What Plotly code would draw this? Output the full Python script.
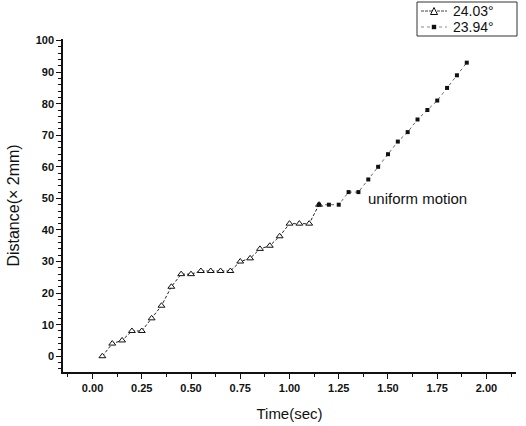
import plotly.graph_objects as go

# Time stamps (s) and distances (x 2 mm) for the two inclination angles
t_24 = [0.05, 0.10, 0.15, 0.20, 0.25, 0.30, 0.35, 0.40, 0.45, 0.50, 0.55, 0.60,
        0.65, 0.70, 0.75, 0.80, 0.85, 0.90, 0.95, 1.00, 1.05, 1.10, 1.15]
d_24 = [0, 4, 5, 8, 8, 12, 16, 22, 26, 26, 27, 27,
        27, 27, 30, 31, 34, 35, 38, 42, 42, 42, 48]

t_23 = [1.15, 1.20, 1.25, 1.30, 1.35, 1.40, 1.45, 1.50, 1.55, 1.60, 1.65,
        1.70, 1.75, 1.80, 1.85, 1.90]
d_23 = [48, 48, 48, 52, 52, 56, 60, 64, 68, 71, 75, 78, 81, 85, 89, 93]

series_names = ["24.03°", "23.94°"]

x_ticks = [0.00, 0.25, 0.50, 0.75, 1.00, 1.25, 1.50, 1.75, 2.00]
y_ticks = [0, 10, 20, 30, 40, 50, 60, 70, 80, 90, 100]

FONT = "Liberation Sans, Arial, sans-serif"
W, H = 526, 426
ML, MR, MT, MB = 63, 10, 39, 54
PW, PH = W - ML - MR, H - MT - MB


def paper(px, py):
    """Convert page pixels to paper coordinates of the plotting area."""
    return (px - ML) / PW, (H - MB - py) / PH


fig = go.Figure()
fig.add_trace(go.Scatter(
    x=t_24, y=d_24, mode="lines+markers", name=series_names[0], showlegend=False,
    line=dict(color="#222", width=1, dash="3px,2px"),
    marker=dict(symbol="triangle-up", size=6, color="white",
                line=dict(width=1, color="#111")),
))
fig.add_trace(go.Scatter(
    x=t_23, y=d_23, mode="lines+markers", name=series_names[1], showlegend=False,
    line=dict(color="#666", width=1, dash="dot"),
    marker=dict(symbol="square", size=4, color="#111"),
))

fig.add_annotation(x=1.39, y=50, text="uniform motion", showarrow=False,
                   xanchor="left", yanchor="middle",
                   font=dict(family=FONT, size=15, color="#111"))

# Boxed key in the top-right corner
shapes = []
bx0, by0 = paper(417, 36)
bx1, by1 = paper(517, 2)
shapes.append(dict(type="rect", xref="paper", yref="paper", x0=bx0, y0=by0,
                   x1=bx1, y1=by1, line=dict(color="#333", width=1),
                   fillcolor="white", layer="above"))
row_y = [11, 27]
line_styles = [dict(color="#444", width=1, dash="3px,1px"),
               dict(color="#888", width=1, dash="dot")]
for i, name in enumerate(series_names):
    lx0, ly = paper(421, row_y[i])
    lx1, _ = paper(447, row_y[i])
    shapes.append(dict(type="line", xref="paper", yref="paper", x0=lx0, x1=lx1,
                       y0=ly, y1=ly, line=line_styles[i], layer="above"))
    mx, my = paper(434, row_y[i])
    if i == 0:
        dx, dy = 3.5 / PW, 3.5 / PH
        path = (f"M{mx - dx},{my - dy} L{mx + dx},{my - dy} "
                f"L{mx},{my + dy} Z")
        shapes.append(dict(type="path", xref="paper", yref="paper", path=path,
                           fillcolor="white", line=dict(color="#111", width=1),
                           layer="above"))
    else:
        dx, dy = 2.2 / PW, 2.2 / PH
        shapes.append(dict(type="rect", xref="paper", yref="paper",
                           x0=mx - dx, x1=mx + dx, y0=my - dy, y1=my + dy,
                           fillcolor="#111", line=dict(width=0), layer="above"))
    tx, ty = paper(451, row_y[i])
    fig.add_annotation(xref="paper", yref="paper", x=tx, y=ty, text=name,
                       showarrow=False, xanchor="left", yanchor="middle",
                       font=dict(family=FONT, size=14, color="#111"))

fig.update_xaxes(
    range=[-0.15, 2.15], tickvals=x_ticks,
    ticktext=[f"<b>{v:.2f}</b>" for v in x_ticks],
    showline=True, linecolor="#111", linewidth=1.5, ticks="outside", ticklen=5,
    tickwidth=1, tickcolor="#111", showgrid=False, zeroline=False,
    tickfont=dict(family=FONT, size=11, color="#111"),
    minor=dict(dtick=0.125, tick0=0, ticks="outside", ticklen=3, tickcolor="#111"),
    title=dict(text="Time(sec)", font=dict(family=FONT, size=15, color="#111"),
               standoff=16),
)
fig.update_yaxes(
    range=[-5, 100.5], tickvals=y_ticks,
    ticktext=[f"<b>{v}</b>" for v in y_ticks],
    showline=True, linecolor="#111", linewidth=1.5, ticks="outside", ticklen=5,
    tickwidth=1, tickcolor="#111", showgrid=False, zeroline=False,
    tickfont=dict(family=FONT, size=11, color="#111"),
    minor=dict(dtick=2, tick0=0, ticks="outside", ticklen=3, tickcolor="#111"),
    title=dict(text="Distance(× 2mm)", font=dict(family=FONT, size=16, color="#111"),
               standoff=12),
)

fig.update_layout(
    width=W, height=H,
    margin=dict(l=ML, r=MR, t=MT, b=MB, autoexpand=False),
    paper_bgcolor="white", plot_bgcolor="white",
    showlegend=False,
    shapes=shapes,
)

fig.write_html("out.html")
